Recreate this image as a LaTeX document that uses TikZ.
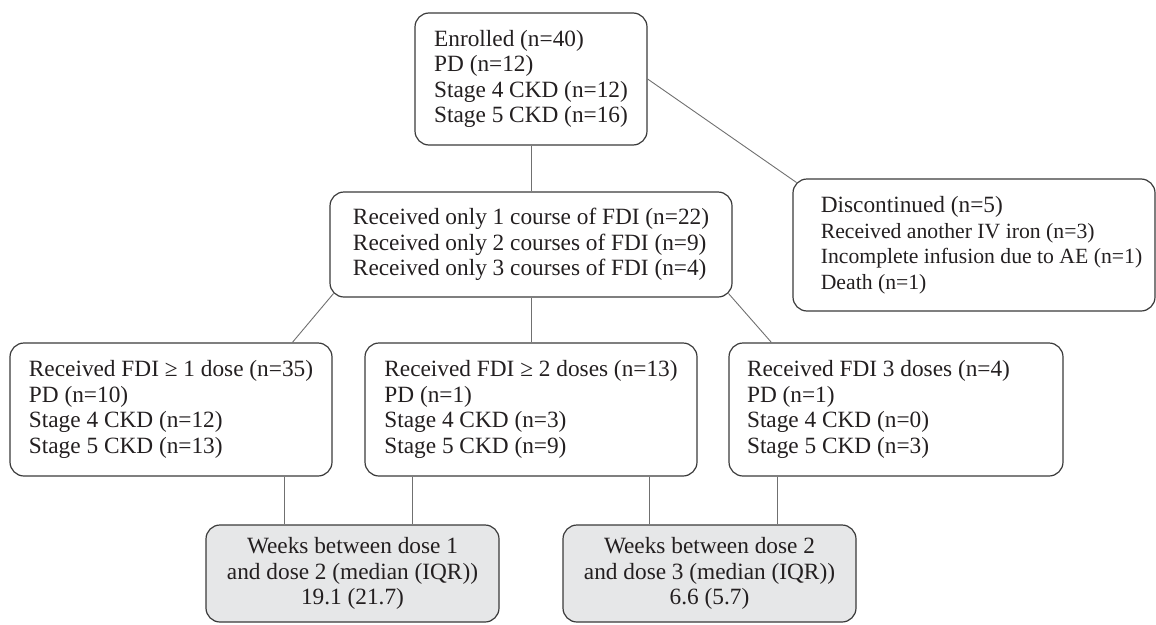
\documentclass[tikz,border=0pt]{standalone}
\usepackage{fontspec}
\setmainfont{Liberation Serif}
\usetikzlibrary{calc}
\definecolor{boxc}{HTML}{3A3A3A}
\definecolor{linec}{HTML}{707070}
\definecolor{fillc}{HTML}{E6E7E8}
\definecolor{txtc}{HTML}{231F20}
\newcommand{\subf}{\fontsize{21.7}{25.5}\selectfont}
\tikzset{
  box/.style={draw=boxc, line width=1.2pt, rounded corners=14pt, align=left,
    text=txtc, font=\fontsize{23.3}{25.5}\selectfont, inner sep=0pt},
  graybox/.style={box, fill=fillc, align=center},
  conn/.style={draw=linec, line width=0.9pt},
}
\begin{document}
\begin{tikzpicture}[x=1pt,y=-1pt]
\useasboundingbox (0,0) rectangle (1156,624);
% top
\node[box, minimum width=232pt, minimum height=132pt] (top) at (531,79)
  {Enrolled (n=40)\\PD (n=12)\\Stage 4 CKD (n=12)\\Stage 5 CKD (n=16)};
% middle
\node[box, minimum width=402pt, minimum height=105pt] (mid) at (531,244.5)
  {Received only 1 course of FDI (n=22)\\Received only 2 courses of FDI (n=9)\\Received only 3 courses of FDI (n=4)};
% discontinued
\node[box, minimum width=362pt, minimum height=132pt] (disc) at (974,245)
  {\hspace*{15pt}Discontinued (n=5)\\
   \hspace*{15pt}{\subf Received another IV iron (n=3)}\\
   \hspace*{15pt}{\subf Incomplete infusion due to AE (n=1)}\\
   \hspace*{15pt}{\subf Death (n=1)}};
% row 3
\node[box, minimum width=322pt, minimum height=133pt] (r1) at (171,409.5)
  {Received FDI ≥ 1 dose (n=35)\\PD (n=10)\\Stage 4 CKD (n=12)\\Stage 5 CKD (n=13)};
\node[box, minimum width=332pt, minimum height=133pt] (r2) at (531,409.5)
  {Received FDI ≥ 2 doses (n=13)\\PD (n=1)\\Stage 4 CKD (n=3)\\Stage 5 CKD (n=9)};
\node[box, minimum width=334pt, minimum height=133pt] (r3) at (896,409.5)
  {Received FDI 3 doses (n=4)\hspace*{35pt}\\PD (n=1)\\Stage 4 CKD (n=0)\\Stage 5 CKD (n=3)};
% bottom
\node[graybox, minimum width=293pt, minimum height=97pt] (b1) at (352.5,573.5)
  {Weeks between dose 1\\and dose 2 (median (IQR))\\19.1 (21.7)};
\node[graybox, minimum width=293pt, minimum height=97pt] (b2) at (709.5,573.5)
  {Weeks between dose 2\\and dose 3 (median (IQR))\\6.6 (5.7)};
% connectors
\draw[conn] (top.south) -- (mid.north);
\draw[conn] (top.east) -- ($(disc.north west)+(4.1,4.1)$);
\draw[conn] ($(mid.south west)+(4.1,-4.1)$) -- ($(r1.north west)+(283,0)$);
\draw[conn] (mid.south) -- (r2.north);
\draw[conn] ($(mid.south east)+(-4.1,-4.1)$) -- ($(r3.north west)+(43,0)$);
\draw[conn] ($(r1.south west)+(275,0)$) -- ($(b1.north west)+(79,0)$);
\draw[conn] ($(r2.south west)+(48,0)$) -- ($(b1.north west)+(207,0)$);
\draw[conn] ($(r2.south west)+(285,0)$) -- ($(b2.north west)+(87,0)$);
\draw[conn] ($(r3.south west)+(49,0)$) -- ($(b2.north west)+(215,0)$);
\end{tikzpicture}
\end{document}
